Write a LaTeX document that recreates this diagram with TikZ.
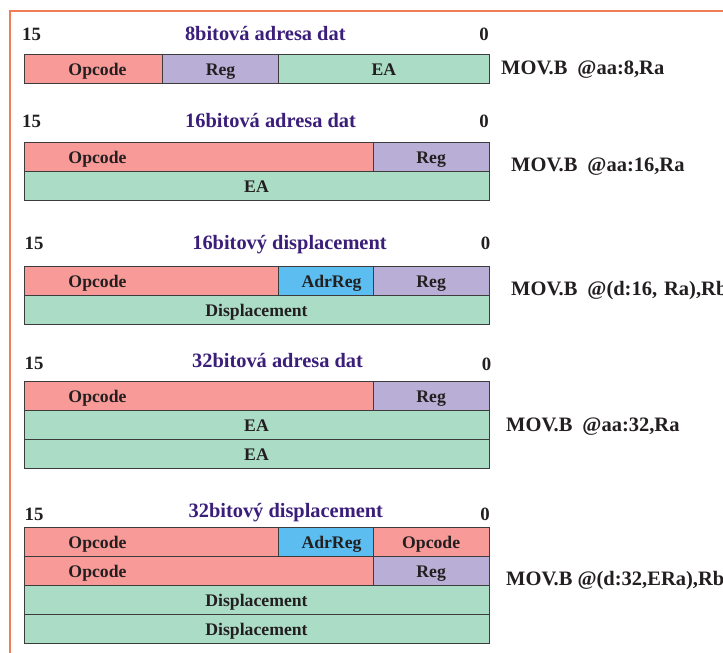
\documentclass[tikz,border=0pt]{standalone}
\usepackage{fontspec}
\setmainfont{Liberation Serif}
\usepackage{tikz}
\definecolor{opcolor}{RGB}{248,155,152}
\definecolor{regcolor}{RGB}{185,175,214}
\definecolor{eacolor}{RGB}{170,220,198}
\definecolor{adrcolor}{RGB}{92,190,240}
\definecolor{titlecolor}{RGB}{59,30,122}
\definecolor{framecolor}{RGB}{240,125,85}
\definecolor{inkcolor}{RGB}{35,31,32}
\definecolor{edgecolor}{RGB}{60,60,60}
\tikzstyle{cell}=[draw=edgecolor,line width=0.9pt,anchor=north west,
                  inner sep=0pt,outer sep=0pt,minimum height=29pt,
                  text height=13pt,text depth=0pt,text=inkcolor,
                  font=\fontsize{17.7}{20}\selectfont\bfseries]
\tikzstyle{celltext}=[inner sep=0pt,text height=13pt,text depth=0pt,
                      text=inkcolor,font=\fontsize{17.7}{20}\selectfont\bfseries]
\tikzstyle{title}=[anchor=base,inner sep=0pt,text=titlecolor,
                   font=\fontsize{20.4}{24}\selectfont\bfseries]
\tikzstyle{bitno}=[inner sep=0pt,text=inkcolor,
                   font=\fontsize{18.8}{22}\selectfont\bfseries]
\tikzstyle{instr}=[anchor=base west,inner sep=0pt,text=inkcolor,
                   font=\fontsize{20.5}{24}\selectfont\bfseries]
\newcommand{\gap}{\hspace{10pt}}

\begin{document}
\begin{tikzpicture}[x=1pt,y=-1pt]
    \useasboundingbox (0,0) rectangle (723,653);
    \clip (0,0) rectangle (723,653);
    \draw[framecolor,line width=1.2pt] (10,700) -- (10,11) -- (800,11);
    % 8bitova adresa dat
    \node[bitno,anchor=base west] (hi1) at (22,40.7) {15};
    \node[title] (t1) at (265.3,40.7) {8bitová adresa dat};
    \node[bitno,anchor=base east] (lo1) at (489,40.7) {0};
    \node[cell,fill=opcolor,minimum width=138.3pt] (op1) at (24,54.5) {};
    \node[celltext] (op1t) at ([xshift=73.5pt]op1.west) {Opcode};
    \node[cell,fill=regcolor,minimum width=116.4pt] (reg1) at (op1.north east) {Reg};
    \node[cell,fill=eacolor,minimum width=210.3pt] (ea1) at (reg1.north east) {EA};
    \node[instr] (mov1) at (501,74) {MOV.B\gap@aa:8,Ra};
    % 16bitova adresa dat
    \node[bitno,anchor=base west] (hi2) at (22,127) {15};
    \node[title] (t2) at (270.5,127) {16bitová adresa dat};
    \node[bitno,anchor=base east] (lo2) at (489,127) {0};
    \node[cell,fill=opcolor,minimum width=349.3pt] (op2) at (24,142.5) {};
    \node[celltext] (op2t) at ([xshift=73.5pt]op2.west) {Opcode};
    \node[cell,fill=regcolor,minimum width=115.7pt] (reg2) at (op2.north east) {Reg};
    \node[cell,fill=eacolor,minimum width=465pt] (ea2) at (op2.south west) {EA};
    \node[instr] (mov2) at (511,171.7) {MOV.B\gap@aa:16,Ra};
    % 16bitovy displacement
    \node[bitno,anchor=base west] (hi3) at (24.5,249) {15};
    \node[title] (t3) at (289.5,249) {16bitový displacement};
    \node[bitno,anchor=base east] (lo3) at (490.5,249) {0};
    \node[cell,fill=opcolor,minimum width=254.7pt] (op3) at (24,266) {};
    \node[celltext] (op3t) at ([xshift=73.5pt]op3.west) {Opcode};
    \node[cell,fill=adrcolor,minimum width=94.6pt] (adr3) at (op3.north east) {\hspace*{11pt}AdrReg};
    \node[cell,fill=regcolor,minimum width=115.7pt] (reg3) at (adr3.north east) {Reg};
    \node[cell,fill=eacolor,minimum width=465pt] (disp3) at (op3.south west) {Displacement};
    \node[instr] (mov3) at (511,295) {MOV.B\gap@(d:16,\hspace{7pt}Ra),Rb};
    % 32bitova adresa dat
    \node[bitno,anchor=base west] (hi4) at (24.5,369.5) {15};
    \node[title] (t4) at (277.5,367) {32bitová adresa dat};
    \node[bitno,anchor=base east] (lo4) at (491.5,370) {0};
    \node[cell,fill=opcolor,minimum width=349.3pt] (op4) at (24,381.5) {};
    \node[celltext] (op4t) at ([xshift=73.5pt]op4.west) {Opcode};
    \node[cell,fill=regcolor,minimum width=115.7pt] (reg4) at (op4.north east) {Reg};
    \node[cell,fill=eacolor,minimum width=465pt] (ea4a) at (op4.south west) {EA};
    \node[cell,fill=eacolor,minimum width=465pt] (ea4b) at (ea4a.south west) {EA};
    \node[instr] (mov4) at (506,431.7) {MOV.B\gap@aa:32,Ra};
    % 32bitovy displacement
    \node[bitno,anchor=base west] (hi5) at (24.5,520) {15};
    \node[title] (t5) at (285.8,517.3) {32bitový displacement};
    \node[bitno,anchor=base east] (lo5) at (490,520) {0};
    \node[cell,fill=opcolor,minimum width=254.7pt] (op5a) at (24,527) {};
    \node[celltext] (op5at) at ([xshift=73.5pt]op5a.west) {Opcode};
    \node[cell,fill=adrcolor,minimum width=94.6pt] (adr5) at (op5a.north east) {\hspace*{11pt}AdrReg};
    \node[cell,fill=opcolor,minimum width=115.7pt] (op5b) at (adr5.north east) {Opcode};
    \node[cell,fill=opcolor,minimum width=349.3pt] (op5c) at (op5a.south west) {};
    \node[celltext] (op5ct) at ([xshift=73.5pt]op5c.west) {Opcode};
    \node[cell,fill=regcolor,minimum width=115.7pt] (reg5) at (op5c.north east) {Reg};
    \node[cell,fill=eacolor,minimum width=465pt] (disp5a) at (op5c.south west) {Displacement};
    \node[cell,fill=eacolor,minimum width=465pt] (disp5b) at (disp5a.south west) {Displacement};
    \node[instr] (mov5) at (506,585) {MOV.B @(d:32,ERa),Rb};
\end{tikzpicture}
\end{document}
